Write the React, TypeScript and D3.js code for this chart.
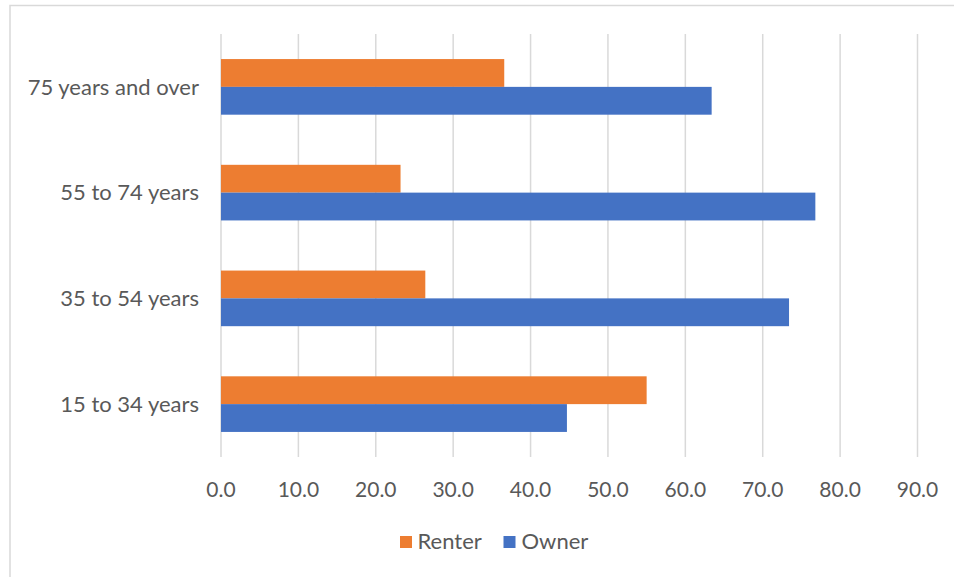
import React from "react";
import * as d3 from "d3";

// Share of householders by tenure, by age group (percent)
const categories = ["75 years and over", "55 to 74 years", "35 to 54 years", "15 to 34 years"];
const renter = [36.6, 23.2, 26.4, 55.0];
const owner = [63.4, 76.8, 73.4, 44.7];
const seriesNames = ["Renter", "Owner"];
const seriesColors = ["#ED7D31", "#4472C4"];
const xTicks = [0, 10, 20, 30, 40, 50, 60, 70, 80, 90];

const W = 954;
const H = 577;
const FONT = "Lato, 'Open Sans', sans-serif";
const TEXT = "#595959";
const GRID = "#d9d9d9";

export default function App() {
  const x = d3.scaleLinear().domain([0, 90]).range([221, 917.5]);
  const y = d3
    .scaleBand<string>()
    .domain(categories)
    .range([34, 457])
    .paddingInner(0.474)
    .paddingOuter(0.237);
  const inner = d3
    .scaleBand<string>()
    .domain(seriesNames)
    .range([0, y.bandwidth()]);
  const values = [renter, owner];
  const fmt = d3.format(".1f");

  return (
    <svg
      width={W}
      height={H}
      style={{ position: "absolute", left: 0, top: 0, background: "#fff" }}
      fontFamily={FONT}
    >
      <rect x={0} y={0} width={W} height={H} fill="#fff" />
      <rect x={10} y={5.5} width={1200} height={1200} fill="none" stroke={GRID} strokeWidth={1.5} />

      {/* vertical gridlines */}
      {xTicks.map((t) => (
        <line key={t} x1={x(t)} x2={x(t)} y1={34} y2={457} stroke={GRID} strokeWidth={1.5} />
      ))}

      {/* bars */}
      {categories.map((c, i) => (
        <g key={c} transform={`translate(0,${y(c)})`}>
          {seriesNames.map((s, j) => (
            <rect
              key={s}
              x={x(0)}
              y={inner(s)}
              width={x(values[j][i]) - x(0)}
              height={inner.bandwidth()}
              fill={seriesColors[j]}
            />
          ))}
        </g>
      ))}

      {/* category labels */}
      {categories.map((c) => (
        <text
          key={c}
          x={199}
          y={(y(c) as number) + y.bandwidth() / 2 + 7.8}
          textAnchor="end"
          fontSize={22}
          fill={TEXT}
        >
          {c}
        </text>
      ))}

      {/* x tick labels */}
      {xTicks.map((t) => (
        <text key={t} x={x(t)} y={497.3} textAnchor="middle" fontSize={21} fill={TEXT}>
          {fmt(t)}
        </text>
      ))}

      {/* legend */}
      <g>
        <rect x={400} y={536} width={12} height={12} fill={seriesColors[0]} />
        <text x={417.5} y={549} fontSize={22} fill={TEXT}>
          {seriesNames[0]}
        </text>
        <rect x={503.5} y={536} width={12} height={12} fill={seriesColors[1]} />
        <text x={521.5} y={549} fontSize={22} fill={TEXT}>
          {seriesNames[1]}
        </text>
      </g>
    </svg>
  );
}
